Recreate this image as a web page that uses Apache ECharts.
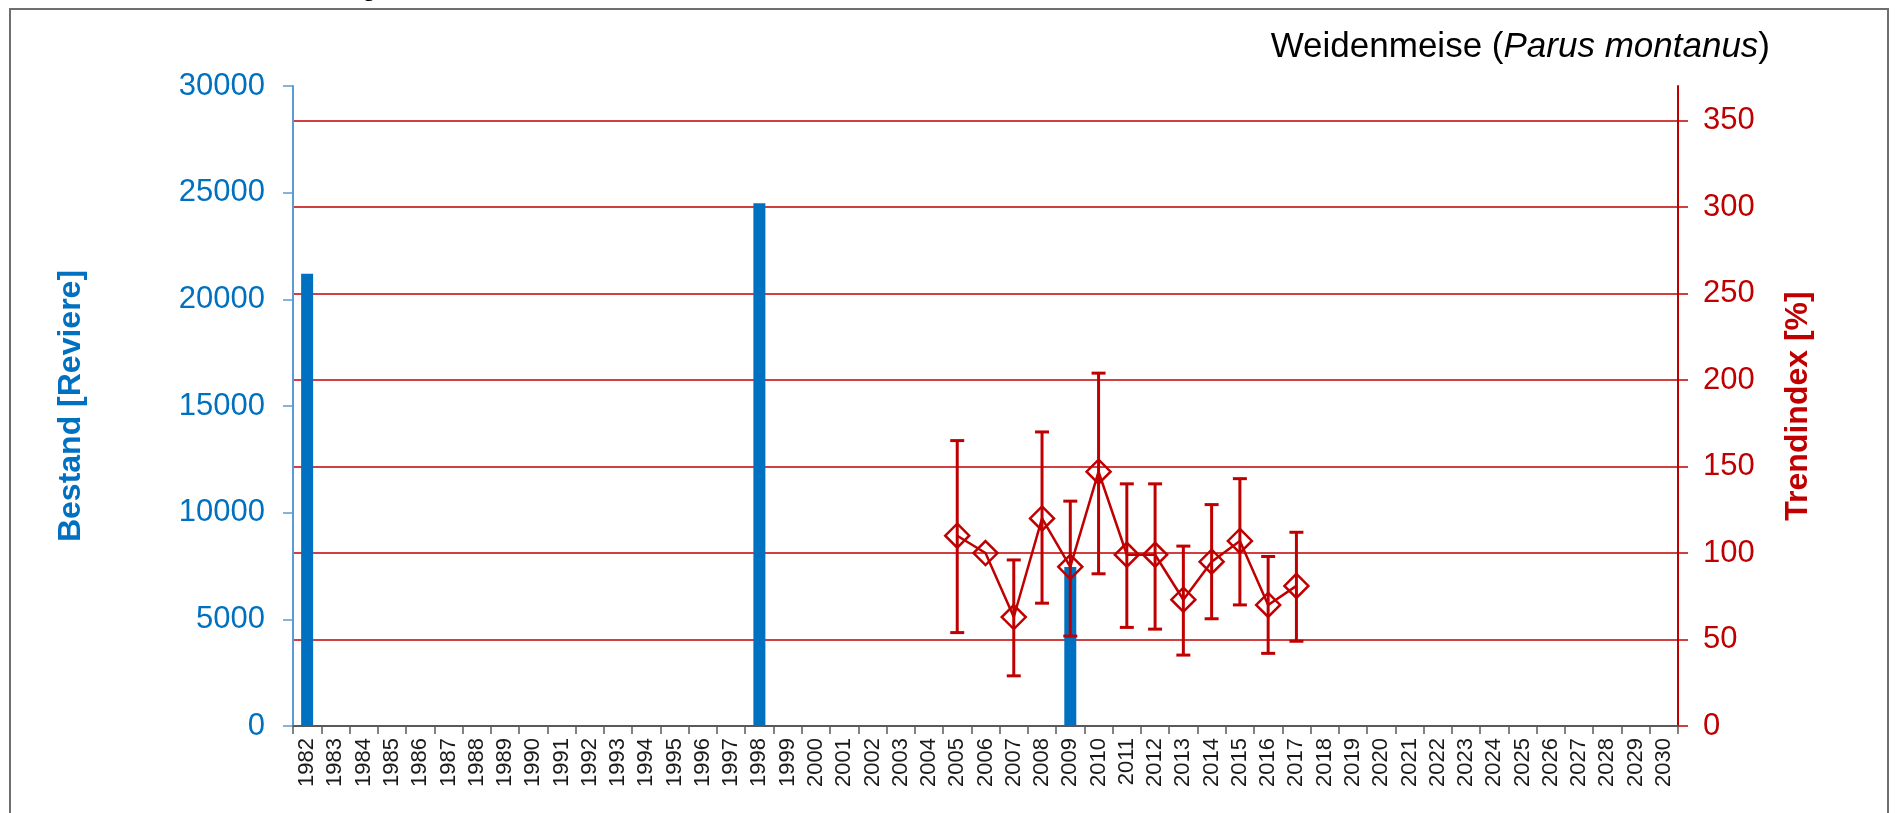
<!DOCTYPE html>
<html>
<head>
<meta charset="utf-8">
<script src="https://cdn.jsdelivr.net/npm/echarts@6/dist/echarts.min.js"></script>
<style>
  html, body { margin: 0; padding: 0; background: #fff; }
  #chart { width: 1897px; height: 813px; }
</style>
</head>
<body>
<div id="chart"></div>
<script>
// Years on the category axis
const years = ['1982','1983','1984','1985','1986','1987','1988','1989','1990','1991',
  '1992','1993','1994','1995','1996','1997','1998','1999','2000','2001','2002','2003',
  '2004','2005','2006','2007','2008','2009','2010','2011','2012','2013','2014','2015',
  '2016','2017','2018','2019','2020','2021','2022','2023','2024','2025','2026','2027',
  '2028','2029','2030'];

// Population counts (territories)
const bestandYears = ['1982', '1998', '2009'];
const bestandValues = [21200, 24500, 7450];

// Trend index [%] with lower / upper limits
const trendYears = ['2005','2006','2007','2008','2009','2010','2011','2012','2013','2014','2015','2016','2017'];
const trendValues = [110, 100, 63, 120, 92, 147, 99, 99, 73, 95, 107, 70, 81];
const trendLow    = [54, null, 29, 71, 52, 88, 57, 56, 41, 62, 70, 42, 49];
const trendHigh   = [165, null, 96, 170, 130, 204, 140, 140, 104, 128, 143, 98, 112];

// Axis ticks
const leftTicks = [0, 5000, 10000, 15000, 20000, 25000, 30000];
const rightTicks = [0, 50, 100, 150, 200, 250, 300, 350];

const BLUE = '#0070C0';
const RED = '#C00000';
const FONT = 'Liberation Sans, Arial, sans-serif';

const chart = echarts.init(document.getElementById('chart'));

const barData = bestandYears.map((y, i) => [y, bestandValues[i]]);
const lineData = trendYears.map((y, i) => [y, trendValues[i]]);
const errData = [];
trendYears.forEach((y, i) => {
  if (trendLow[i] != null && trendHigh[i] != null) {
    errData.push([years.indexOf(y), trendLow[i], trendHigh[i]]);
  }
});

chart.setOption({
  animation: false,
  backgroundColor: '#fff',
  textStyle: { fontFamily: FONT },
  title: {
    text: '{n|Weidenmeise (}{i|Parus montanus}{n|)}',
    right: 122,
    top: 25,
    textStyle: {
      rich: {
        n: { fontFamily: FONT, fontSize: 35, fontWeight: 'normal', color: '#000' },
        i: { fontFamily: FONT, fontSize: 35, fontWeight: 'normal', color: '#000', fontStyle: 'italic' }
      }
    }
  },
  graphic: [
    {
      type: 'rect',
      shape: { x: 10, y: 9, width: 1878, height: 830 },
      style: { fill: 'none', stroke: '#6f6f6f', lineWidth: 2 },
      silent: true
    },
    {
      type: 'text',
      left: 362,
      top: -24,
      style: { text: 'g', fontFamily: FONT, fontSize: 26, fill: '#000' },
      silent: true
    }
  ],
  grid: { left: 293, right: 219, top: 86, bottom: 87 },
  xAxis: {
    type: 'category',
    data: years,
    boundaryGap: true,
    axisLine: { onZero: false, lineStyle: { color: '#595959', width: 2 } },
    axisTick: { show: true, interval: 0, length: 8, lineStyle: { color: '#595959', width: 1.5 } },
    axisLabel: {
      interval: 0, rotate: 90, margin: 12,
      color: '#1a1a1a', fontSize: 22, fontFamily: FONT
    },
    splitLine: { show: false }
  },
  yAxis: [
    {
      type: 'value',
      min: 0, max: 30000, interval: 5000,
      position: 'left',
      name: 'Bestand [Reviere]',
      nameLocation: 'middle',
      nameRotate: 90,
      nameGap: 206,
      nameTextStyle: { color: BLUE, fontSize: 32, fontWeight: 'bold', fontFamily: FONT },
      axisLine: { show: true, lineStyle: { color: '#5B9BD5', width: 2 } },
      axisTick: { show: true, length: 10, customValues: leftTicks, lineStyle: { color: '#5B9BD5', width: 1.5 } },
      axisLabel: {
        color: BLUE, fontSize: 31, margin: 28, fontFamily: FONT,
        customValues: leftTicks,
        formatter: v => String(v)
      },
      splitLine: { show: false }
    },
    {
      type: 'value',
      min: 0, max: 370,
      position: 'right',
      name: 'Trendindex [%]',
      nameLocation: 'middle',
      nameRotate: 90,
      nameGap: 104,
      nameTextStyle: { color: RED, fontSize: 32, fontWeight: 'bold', fontFamily: FONT },
      axisLine: { show: true, lineStyle: { color: RED, width: 2 } },
      axisTick: { show: true, length: 10, customValues: rightTicks, lineStyle: { color: RED, width: 1.5 } },
      axisLabel: { color: RED, fontSize: 31, margin: 25, customValues: rightTicks, fontFamily: FONT },
      splitLine: { show: true, lineStyle: { color: RED, width: 1.5 } }
    }
  ],
  series: [
    {
      type: 'bar',
      name: 'Bestand',
      yAxisIndex: 0,
      barWidth: 12,
      itemStyle: { color: BLUE },
      data: barData,
      z: 2
    },
    {
      type: 'custom',
      name: 'Vertrauensbereich',
      yAxisIndex: 1,
      renderItem: function (params, api) {
        const x = api.value(0);
        const lo = api.coord([x, api.value(1)]);
        const hi = api.coord([x, api.value(2)]);
        const cap = 7;
        const style = { stroke: RED, lineWidth: 3, fill: 'none' };
        return {
          type: 'group',
          children: [
            { type: 'line', shape: { x1: lo[0], y1: lo[1], x2: hi[0], y2: hi[1] }, style: style },
            { type: 'line', shape: { x1: lo[0] - cap, y1: lo[1], x2: lo[0] + cap, y2: lo[1] }, style: style },
            { type: 'line', shape: { x1: hi[0] - cap, y1: hi[1], x2: hi[0] + cap, y2: hi[1] }, style: style }
          ]
        };
      },
      data: errData,
      z: 3
    },
    {
      type: 'line',
      name: 'Trendindex',
      yAxisIndex: 1,
      data: lineData,
      symbol: 'diamond',
      symbolSize: 24,
      lineStyle: { color: RED, width: 2.5 },
      itemStyle: { color: 'rgba(255,255,255,0)', borderColor: RED, borderWidth: 2.5 },
      z: 4
    }
  ]
});
</script>
</body>
</html>
